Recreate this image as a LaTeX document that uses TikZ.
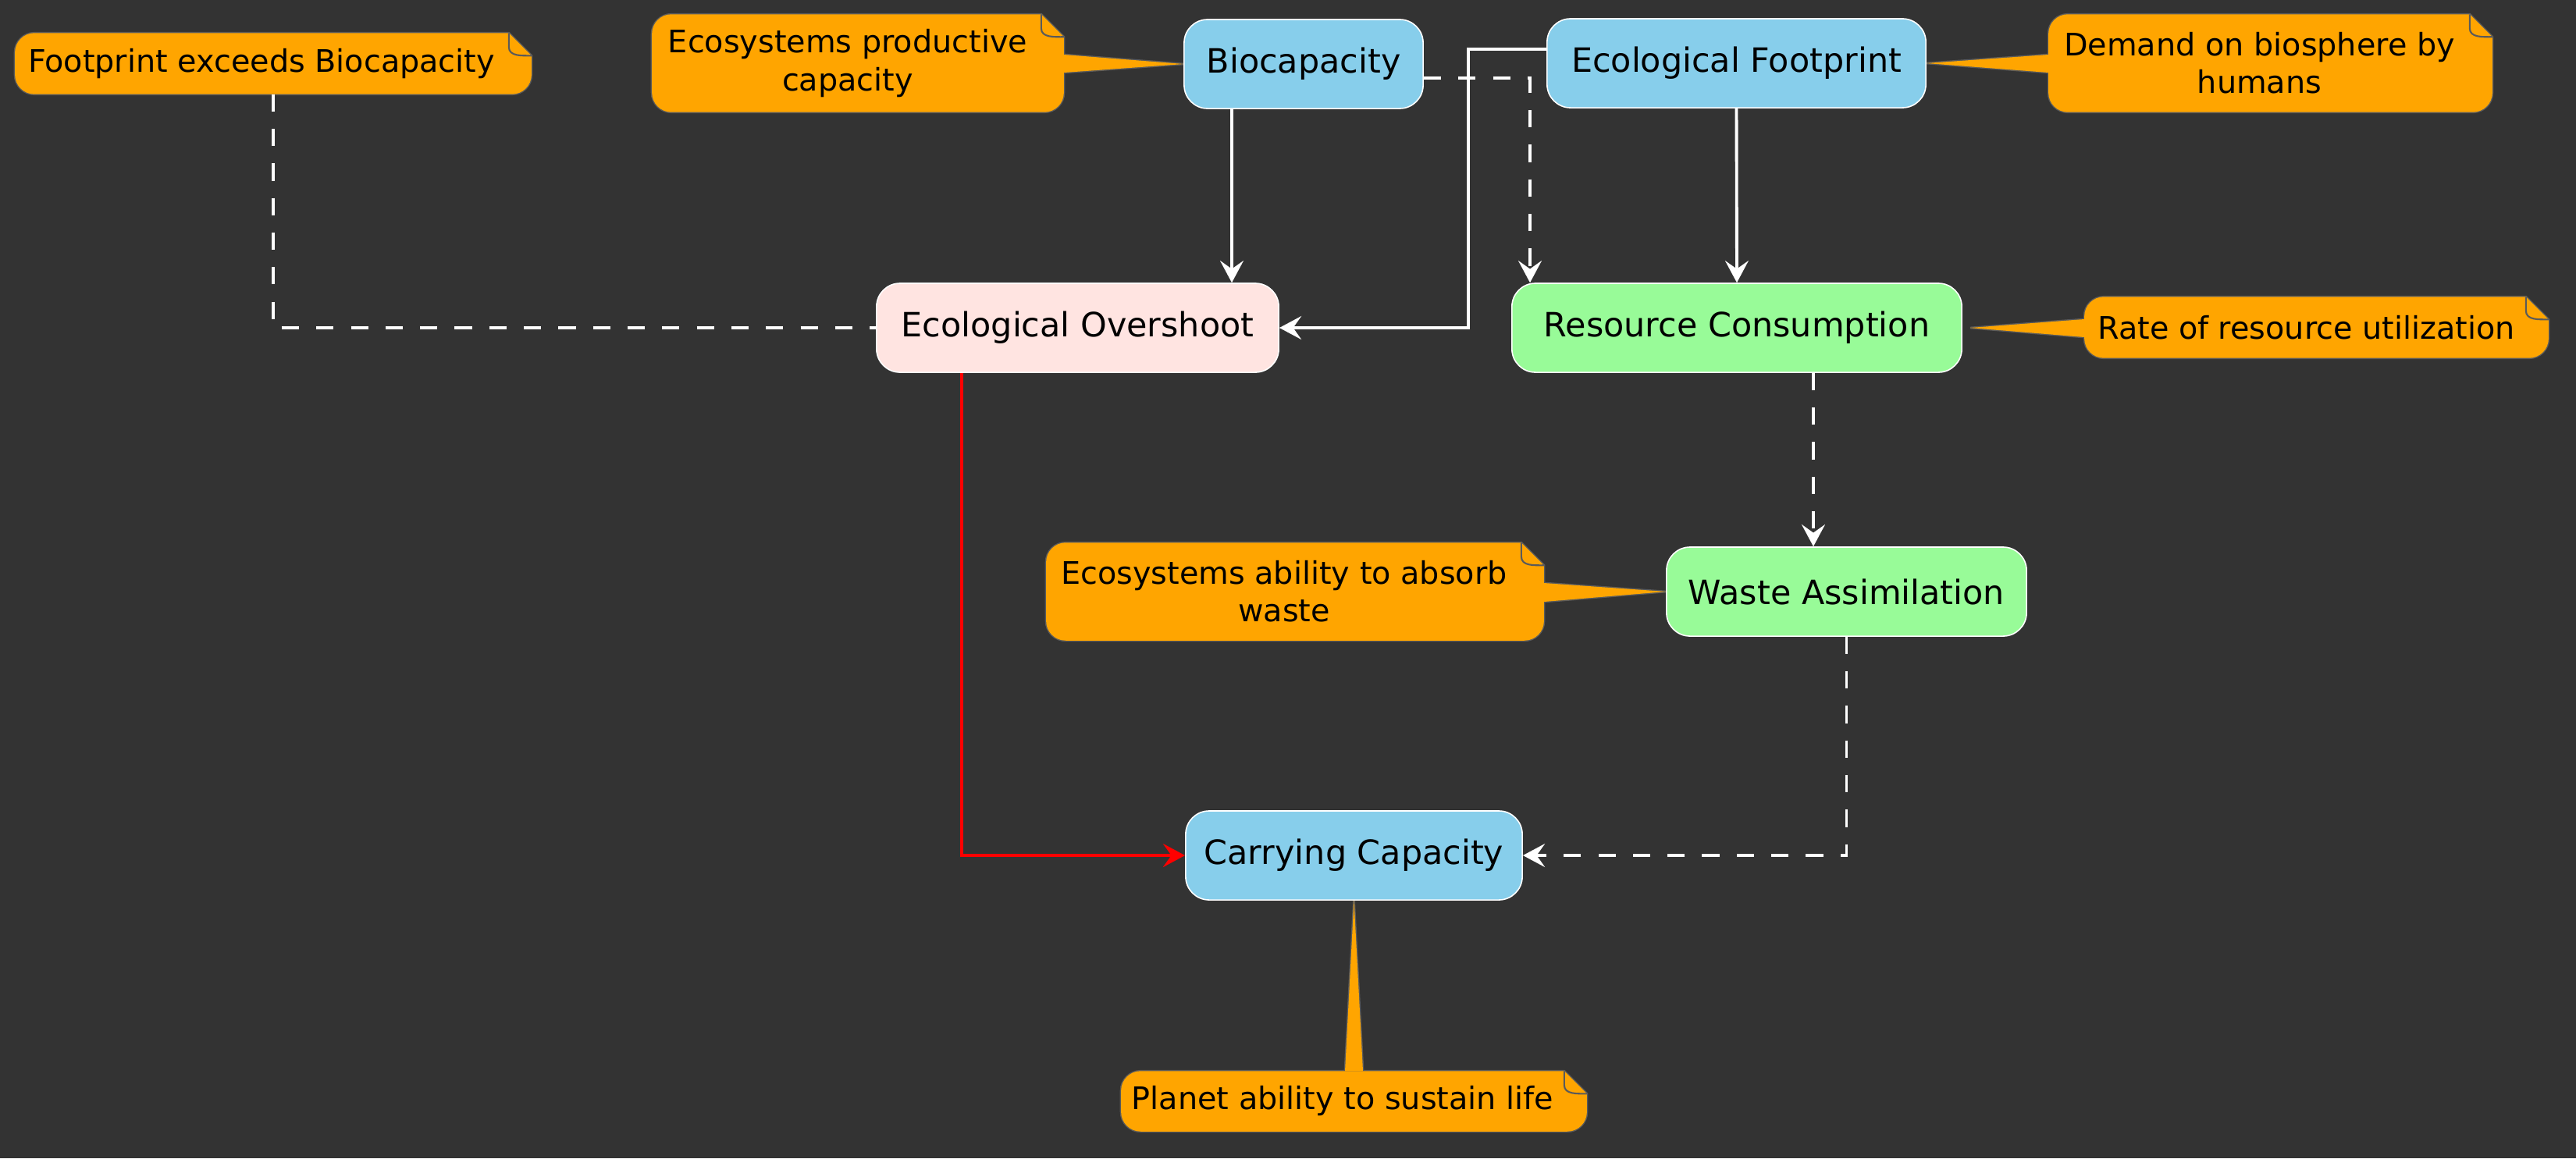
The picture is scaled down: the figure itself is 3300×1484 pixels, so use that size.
\documentclass[tikz,border=0pt]{standalone}
\usepackage{fontspec}
\setmainfont{DejaVu Sans}
\usetikzlibrary{arrows.meta}
\pgfdeclarelayer{bglayer}
\pgfdeclarelayer{notelayer}
\pgfsetlayers{bglayer,notelayer,main}
\definecolor{bgc}{HTML}{333333}
\definecolor{skyb}{HTML}{87CEEB}
\definecolor{mrose}{HTML}{FFE4E1}
\definecolor{pgreen}{HTML}{98FB98}
\definecolor{noteor}{HTML}{FFA500}
\definecolor{noteln}{HTML}{5A5A5A}
\definecolor{redl}{HTML}{FF0000}
\newcommand\myNodeFont{\fontsize{12.2}{14.6}\selectfont}
\newcommand\myNoteFont{\fontsize{11.3}{13.7}\selectfont}
% note outline path (r = 0.25cm corner, f = 0.29cm fold)
\newcommand\notepath[1]{([xshift=0.25cm]#1.north west) -- ([xshift=-0.29cm]#1.north east) -- ([yshift=-0.29cm]#1.north east) -- ([yshift=0.25cm]#1.south east) arc[start angle=0,end angle=-90,radius=0.25cm] -- ([xshift=0.25cm]#1.south west) arc[start angle=270,end angle=180,radius=0.25cm] -- ([yshift=-0.25cm]#1.north west) arc[start angle=180,end angle=90,radius=0.25cm] -- cycle}
\newcommand\drawnote[1]{\draw[noteedge] \notepath{#1};}
\newcommand\fillnote[1]{\fill[noteor] \notepath{#1};}
\newcommand\foldnote[1]{\draw[noteedge, line width=0.6pt] ([xshift=-0.29cm]#1.north east) -- ++(0,-0.18cm) to[out=-90,in=180] ([yshift=-0.29cm]#1.north east);}
\begin{document}
\begin{tikzpicture}[x=0.01cm,y=-0.01cm,
  box/.style={draw=white, line width=0.45pt, rounded corners=0.3cm, inner sep=0pt, minimum height=1.14cm, text=black, font=\myNodeFont},
  notebox/.style={inner sep=0pt, text=black, align=center, font=\myNoteFont},
  conn/.style={draw=white, line width=1.1pt, -{Stealth[length=8pt,width=8.5pt,inset=3pt]}},
  dashedline/.style={dash pattern=on 6.3pt off 6.3pt},
  noteedge/.style={draw=noteln, line width=0.8pt},
  wedge/.style={fill=noteor}
]
\useasboundingbox (0,0) rectangle (3300,1484);
\begin{pgfonlayer}{bglayer}
\fill[bgc] (0,0) rectangle (3300,1484);
\end{pgfonlayer}

% main nodes
\node[box, fill=skyb, minimum width=3.06cm] (bio) at (1670,82) {Biocapacity};
\node[box, fill=skyb, minimum width=4.85cm] (foot) at (2224.5,81) {Ecological Footprint};
\node[box, fill=mrose, minimum width=5.15cm] (over) at (1380.5,420) {Ecological Overshoot};
\node[box, fill=pgreen, minimum width=5.76cm] (res) at (2225,420) {Resource Consumption};
\node[box, fill=pgreen, minimum width=4.61cm] (waste) at (2365.5,758) {Waste Assimilation};
\node[box, fill=skyb, minimum width=4.31cm] (carry) at (1734.5,1096) {Carrying Capacity};

% notes (text)
\node[notebox, minimum width=6.60cm, minimum height=0.77cm] (fe) at (350,81.5) {\hspace*{-0.30cm}Footprint exceeds Biocapacity};
\node[notebox, minimum width=5.26cm, minimum height=1.24cm] (ep) at (1099,81) {\hspace*{-0.26cm}Ecosystems productive\\\hspace*{-0.26cm}capacity};
\node[notebox, minimum width=5.67cm, minimum height=1.24cm] (dm) at (2908.5,81) {\hspace*{-0.28cm}Demand on biosphere by\\\hspace*{-0.28cm}humans};
\node[notebox, minimum width=5.93cm, minimum height=0.77cm] (rr) at (2967.5,419.5) {\hspace*{-0.26cm}Rate of resource utilization};
\node[notebox, minimum width=6.36cm, minimum height=1.24cm] (ea) at (1659,758) {\hspace*{-0.28cm}Ecosystems ability to absorb\\\hspace*{-0.28cm}waste};
\node[notebox, minimum width=5.95cm, minimum height=0.76cm] (pl) at (1734.5,1411) {\hspace*{-0.29cm}Planet ability to sustain life};

% note shapes
\begin{pgfonlayer}{notelayer}
\draw[noteedge] (ep.east |- 0,70) -- (bio.west) -- (ep.east |- 0,93) -- cycle;
\draw[noteedge] (dm.west |- 0,70) -- (foot.east) -- (dm.west |- 0,93) -- cycle;
\draw[noteedge] (rr.west |- 0,409) -- ([xshift=0.1cm]res.east) -- (rr.west |- 0,432) -- cycle;
\draw[noteedge] (ea.east |- 0,747) -- (waste.west) -- (ea.east |- 0,771) -- cycle;
\draw[noteedge] (pl.north -| 1723,0) -- (carry.south) -- (pl.north -| 1746,0) -- cycle;
\drawnote{fe}\drawnote{ep}\drawnote{dm}\drawnote{rr}\drawnote{ea}\drawnote{pl}
\fill[wedge] (ep.east |- 0,70) -- (bio.west) -- (ep.east |- 0,93) -- cycle;
\fill[wedge] (dm.west |- 0,70) -- (foot.east) -- (dm.west |- 0,93) -- cycle;
\fill[wedge] (rr.west |- 0,409) -- ([xshift=0.1cm]res.east) -- (rr.west |- 0,432) -- cycle;
\fill[wedge] (ea.east |- 0,747) -- (waste.west) -- (ea.east |- 0,771) -- cycle;
\fill[wedge] (pl.north -| 1723,0) -- (carry.south) -- (pl.north -| 1746,0) -- cycle;
\fillnote{fe}\fillnote{ep}\fillnote{dm}\fillnote{rr}\fillnote{ea}\fillnote{pl}
\foldnote{fe}\foldnote{ep}\foldnote{dm}\foldnote{rr}\foldnote{ea}\foldnote{pl}
\end{pgfonlayer}

% connectors
\draw[conn] (bio.south -| 1578,0) -- (over.north -| 1578,0);
\draw[conn] (foot.south) -- (res.north);
\draw[conn, dashedline] (bio.east |- 0,100) -| (res.north -| 1960,0);
\draw[conn] (foot.west |- 0,63) -| (1881,420) -- (over.east);
\draw[conn, dashedline] (res.south -| 2323,0) -- (waste.north -| 2323,0);
\draw[conn, dashedline] (waste.south) |- (carry.east);
\draw[conn, draw=redl] (over.south -| 1232,0) |- (carry.west);
\draw[white, line width=1.1pt, dashedline] (fe.south) |- (over.west);
\end{tikzpicture}
\end{document}
